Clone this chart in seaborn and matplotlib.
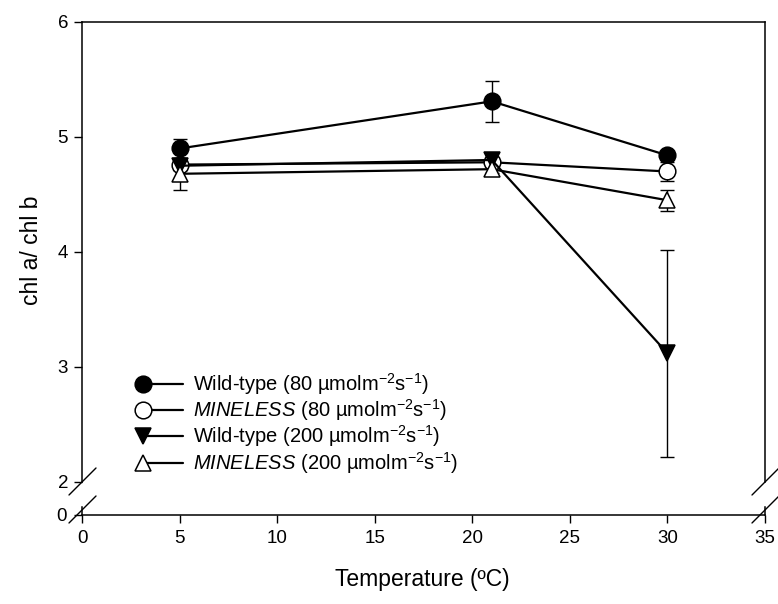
import numpy as np
import pandas as pd
import matplotlib
matplotlib.use('Agg')
import matplotlib.pyplot as plt
from matplotlib.lines import Line2D
from matplotlib.legend_handler import HandlerLine2D
import seaborn as sns

# Values
temperature = [5, 21, 30]

wt_80 = [4.90, 5.31, 4.84]
wt_80_err = [0.08, 0.18, 0.03]

mn_80 = [4.76, 4.78, 4.70]
mn_80_err = [0.05, 0.03, 0.08]

wt_200 = [4.75, 4.80, 3.12]
wt_200_err = [0.04, 0.03, 0.90]

mn_200 = [4.68, 4.72, 4.45]
mn_200_err = [0.14, 0.03, 0.09]

labels = [r'Wild-type (80 µmolm$^{-2}$s$^{-1}$)',
          r'$\it{MINELESS}$ (80 µmolm$^{-2}$s$^{-1}$)',
          r'Wild-type (200 µmolm$^{-2}$s$^{-1}$)',
          r'$\it{MINELESS}$ (200 µmolm$^{-2}$s$^{-1}$)']

sns.set_style('white')
plt.rcParams['font.family'] = ['Liberation Sans', 'DejaVu Sans']
plt.rcParams['mathtext.fontset'] = 'custom'
plt.rcParams['mathtext.rm'] = 'Liberation Sans'
plt.rcParams['mathtext.it'] = 'Liberation Sans:italic'
plt.rcParams['text.color'] = 'black'
plt.rcParams['xtick.color'] = 'black'
plt.rcParams['ytick.color'] = 'black'
plt.rcParams['axes.labelcolor'] = 'black'

series = [
    (wt_80, wt_80_err, 'o', 'black'),
    (mn_80, mn_80_err, 'o', 'white'),
    (wt_200, wt_200_err, 'v', 'black'),
    (mn_200, mn_200_err, '^', 'white'),
]

fig = plt.figure(figsize=(7.78, 6.04), dpi=100)
ax = fig.add_axes([0.1054, 0.2020, 0.8779, 0.7616])
ax_low = fig.add_axes([0.1054, 0.1474, 0.8779, 0.0132])

handles = []
for (vals, errs, mk, fc), lab in zip(series, labels):
    df = pd.DataFrame({'T': temperature, 'v': vals})
    ax.errorbar(temperature, vals, yerr=errs, fmt='none', ecolor='black',
                elinewidth=1, capsize=5, capthick=1, zorder=2)
    sns.lineplot(data=df, x='T', y='v', ax=ax, color='black', lw=1.6,
                 marker=mk, markersize=12, markerfacecolor=fc,
                 markeredgecolor='black', markeredgewidth=1.1, zorder=3)
    handles.append(Line2D([], [], color='black', lw=1.6, marker=mk,
                          markersize=12, markerfacecolor=fc,
                          markeredgecolor='black', markeredgewidth=1.1,
                          label=lab))

# upper panel
ax.set_xlim(0, 35)
ax.set_ylim(2, 6)
ax.set_yticks([2, 3, 4, 5, 6])
ax.set_xticks([])
ax.set_xlabel('')
ax.set_ylabel('')
for s in ['left', 'right', 'top']:
    ax.spines[s].set_visible(True)
    ax.spines[s].set_color('black')
    ax.spines[s].set_linewidth(1.1)
ax.spines['bottom'].set_visible(False)
ax.tick_params(axis='y', direction='out', length=6, width=1, left=True,
               labelsize=13.5, pad=4)

# lower stub panel
ax_low.set_xlim(0, 35)
ax_low.set_ylim(0, 1)
ax_low.set_yticks([0])
ax_low.set_xticks(np.arange(0, 36, 5))
ax_low.spines['top'].set_visible(False)
for s in ['left', 'right', 'bottom']:
    ax_low.spines[s].set_visible(True)
    ax_low.spines[s].set_color('black')
    ax_low.spines[s].set_linewidth(1.1)
ax_low.tick_params(axis='both', direction='out', length=6, width=1,
                   bottom=True, left=True, labelsize=13.5, pad=5)
ax_low.patch.set_alpha(0)

# axis break marks
for xb in [82, 765]:
    for yb in [482, 510]:
        fig.add_artist(Line2D([(xb - 13) / 778, (xb + 14) / 778],
                              [1 - (yb + 13) / 604, 1 - (yb - 14) / 604],
                              color='black', lw=1, transform=fig.transFigure))

fig.text(0.543, 0.04, 'Temperature (ºC)', ha='center', va='center', fontsize=16.5)
fig.text(0.040, 0.585, 'chl a/ chl b', ha='center', va='center',
         rotation=90, fontsize=16.5)


class LeftMarker(HandlerLine2D):
    def create_artists(self, *args, **kwargs):
        arts = super().create_artists(*args, **kwargs)
        for a in arts:
            if a.get_marker() not in (None, 'None', ''):
                a.set_markevery([0])
        return arts


ax.legend(handles=handles, loc='upper left', bbox_to_anchor=(0.068, 0.272),
          frameon=False, fontsize=14.5, handlelength=2.0, handletextpad=0.5,
          labelspacing=0.02, numpoints=1, borderpad=0.2,
          handler_map={Line2D: LeftMarker(numpoints=1)})

fig.savefig('out.png', dpi=100)
